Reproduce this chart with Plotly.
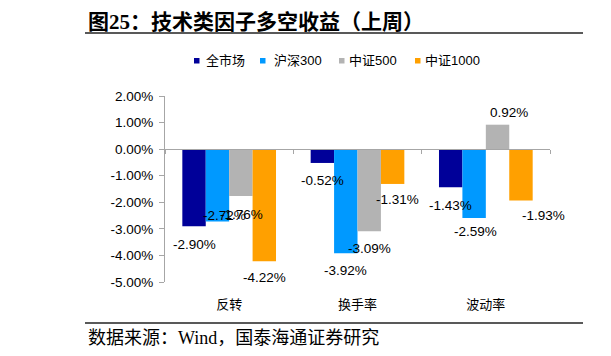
import plotly.graph_objects as go

# ---------------- data ----------------
categories = ["反转", "换手率", "波动率"]
series_names = ["全市场", "沪深300", "中证500", "中证1000"]
all_market = [-2.90, -0.52, -1.43]
hs300 = [-2.72, -3.92, -2.59]
zz500 = [-1.76, -3.09, 0.92]
zz1000 = [-4.22, -1.31, -1.93]
y_tick_values = [2, 1, 0, -1, -2, -3, -4, -5]

series_values = [all_market, hs300, zz500, zz1000]
colors = ["#000099", "#0099FF", "#B3B3B3", "#FFA000"]

# label offsets (px): (dx right, dy down) from bar end, per series, per category
label_offsets = [
    [(0, 18), (0, 18), (0, 18)],
    [(7, -6), (0, 17), (1, 14)],
    [(1, 19), (0, 17), (11, -12)],
    [(0, 16), (5, 16), (23, 15)],
]

# ---------------- layout geometry ----------------
# page body has an 8px margin, so work in page pixels and subtract it
OFF = 8
W, H = 611 - OFF, 356 - OFF
ML = 165 - OFF
MT = 96 - OFF
PR = 550 - OFF   # plot right edge
PB = 282 - OFF   # plot bottom edge
MR = W - PR
MB = H - PB
PW = W - ML - MR
PH = H - MT - MB


def px(x):
    return (x - OFF - ML) / PW


def py(y):
    return (H - MB - (y - OFF)) / PH


LAT = "Liberation Sans, Arial, Noto Sans CJK SC"
CJK = "Noto Sans CJK SC, Liberation Sans"
SERIF = "Liberation Serif, Noto Sans CJK SC"

bargap = 0.27
fig = go.Figure()
for name, vals, c in zip(series_names, series_values, colors):
    fig.add_trace(go.Bar(x=categories, y=vals, name=name, marker_color=c,
                         marker_line_width=0, showlegend=False, hoverinfo="skip"))

# data labels
w = (1 - bargap) / len(series_values)
for i, vals in enumerate(series_values):
    for j, v in enumerate(vals):
        xpos = j - (1 - bargap) / 2 + (i + 0.5) * w
        dx, dy = label_offsets[i][j]
        fig.add_annotation(x=xpos, y=v, xref="x", yref="y", text=f"{v:.2f}%",
                           showarrow=False, xshift=dx, yshift=-dy,
                           font=dict(family=LAT, size=13.5, color="#000"))

# legend (manual)
legend_marker_x = [194, 260, 339, 415]
legend_text_x = [204, 272, 347, 423]
LEG_Y = 60.5
for name, c, mx, tx in zip(series_names, colors, legend_marker_x, legend_text_x):
    fig.add_shape(type="rect", xref="paper", yref="paper",
                  x0=px(mx), x1=px(mx + 5.5), y0=py(LEG_Y + 3), y1=py(LEG_Y - 2.5),
                  fillcolor=c, line_width=0)
    fig.add_annotation(x=px(tx), y=py(LEG_Y), xref="paper", yref="paper", text=name,
                       showarrow=False, xanchor="left", yanchor="middle",
                       font=dict(family=LAT, size=13, color="#000"))

# title and source
fig.add_annotation(x=px(86), y=py(22), xref="paper", yref="paper",
                   text="<b>图25：技术类因子多空收益（上周）</b>", showarrow=False,
                   xanchor="left", yanchor="middle",
                   font=dict(family=SERIF, size=21, color="#000"))
fig.add_annotation(x=px(86), y=py(338), xref="paper", yref="paper",
                   text="数据来源：Wind，国泰海通证券研究", showarrow=False,
                   xanchor="left", yanchor="middle",
                   font=dict(family=SERIF, size=18, color="#000"))
# fragments of the neighbouring chart at right edge
fig.add_annotation(x=px(606), y=py(22), xref="paper", yref="paper",
                   text="<b>图</b>", showarrow=False, xanchor="left", yanchor="middle",
                   font=dict(family=SERIF, size=21, color="#000"))
fig.add_annotation(x=px(607), y=py(338), xref="paper", yref="paper",
                   text="数", showarrow=False, xanchor="left", yanchor="middle",
                   font=dict(family=SERIF, size=18, color="#000"))
for yy in (33, 323):
    fig.add_shape(type="line", xref="paper", yref="paper",
                  x0=px(85), x1=px(583), y0=py(yy), y1=py(yy),
                  line=dict(color="#222", width=1.5))
    fig.add_shape(type="line", xref="paper", yref="paper",
                  x0=px(607), x1=px(615), y0=py(yy), y1=py(yy),
                  line=dict(color="#222", width=1.5))

ymin, ymax = -5, 2
fig.update_layout(
    template="none",
    width=W, height=H,
    margin=dict(l=ML, r=MR, t=MT, b=MB, autoexpand=False),
    paper_bgcolor="white", plot_bgcolor="white",
    barmode="group", bargap=bargap, bargroupgap=0,
    showlegend=False,
    xaxis=dict(type="category", range=[-0.5, 2.5], anchor="free",
               position=(0 - ymin) / (ymax - ymin),
               showline=True, linecolor="#A6A6A6", linewidth=1,
               ticks="outside", tickson="boundaries", ticklen=4, tickcolor="#A6A6A6",
               showgrid=False, zeroline=False, automargin=False,
               ticklabelstandoff=143,
               tickfont=dict(family=CJK, size=13, color="#000")),
    yaxis=dict(range=[ymin, ymax], tickvals=y_tick_values,
               ticktext=[f"{v:.2f}%" for v in y_tick_values],
               showline=True, linecolor="#A6A6A6", linewidth=1,
               ticks="outside", ticklen=5, tickcolor="#A6A6A6",
               showgrid=False, zeroline=False, automargin=False,
               ticklabelstandoff=3,
               tickfont=dict(family=LAT, size=13.5, color="#000")),
)

fig.write_html("out.html")
